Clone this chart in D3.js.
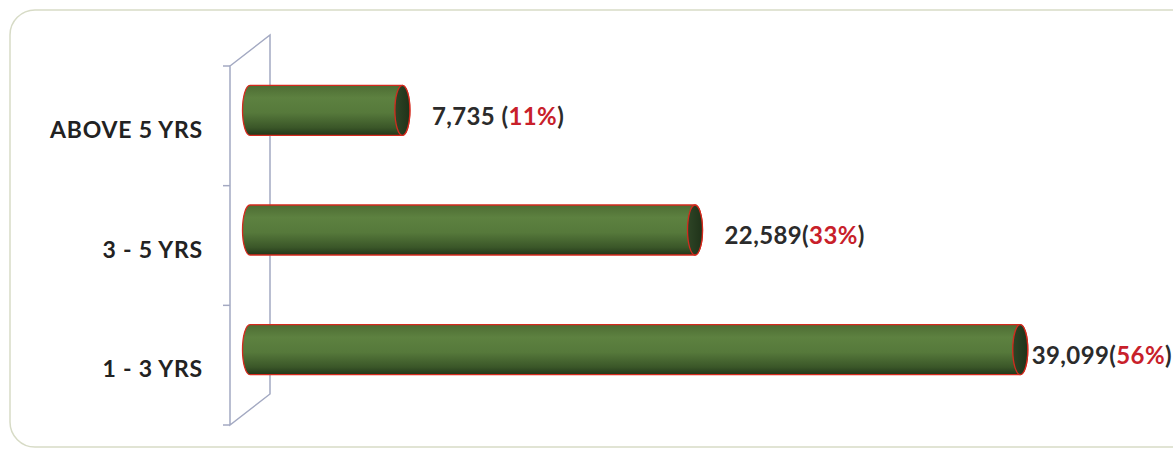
<!DOCTYPE html>
<html>
<head>
<meta charset="utf-8">
<script src="https://cdn.jsdelivr.net/npm/d3@7"></script>
<style>
  body { margin: 0; background: #fff; }
  text { font-family: Lato, "Open Sans", "Liberation Sans", sans-serif; font-weight: bold; letter-spacing: 0.8px; }
  text.val { letter-spacing: 0.4px; }
</style>
</head>
<body>
<div id="chart"></div>
<script>
// chart data
const categories = ["ABOVE 5 YRS", "3 - 5 YRS", "1 - 3 YRS"];
const values = [7735, 22589, 39099];
const percents = ["11%", "33%", "56%"];

const width = 1173, height = 452;

const svg = d3.select("#chart").append("svg")
  .attr("width", width)
  .attr("height", height);

// gradient for the cylinders
const defs = svg.append("defs");
const grad = defs.append("linearGradient")
  .attr("id", "cyl").attr("x1", 0).attr("y1", 0).attr("x2", 0).attr("y2", 1);
grad.append("stop").attr("offset", "0%").attr("stop-color", "#4d6c33");
grad.append("stop").attr("offset", "25%").attr("stop-color", "#5d8140");
grad.append("stop").attr("offset", "55%").attr("stop-color", "#56793b");
grad.append("stop").attr("offset", "85%").attr("stop-color", "#3a5628");
grad.append("stop").attr("offset", "100%").attr("stop-color", "#22361a");

const capGrad = defs.append("linearGradient")
  .attr("id", "cap").attr("x1", 0).attr("y1", 0).attr("x2", 1).attr("y2", 0);
capGrad.append("stop").attr("offset", "0%").attr("stop-color", "#2e4526");
capGrad.append("stop").attr("offset", "100%").attr("stop-color", "#1f3219");

// outer rounded frame
svg.append("rect")
  .attr("x", 10).attr("y", 10)
  .attr("width", 1200).attr("height", 437)
  .attr("rx", 25)
  .attr("fill", "none")
  .attr("stroke", "#d7dbc6")
  .attr("stroke-width", 1.5);

// scales
const frontX = 230;           // front edge of the wall
const depthX = 40, depthY = -31;  // 3d depth of the wall
const y = d3.scaleBand()
  .domain(categories)
  .range([66, 425])
  .paddingInner(0)
  .paddingOuter(0);

const x = d3.scaleLinear()
  .domain([0, 40000])
  .range([frontX + depthX / 2, frontX + depthX / 2 + 788]);

// wall
const wallColor = "#a3a9c2";
const [y0, y1] = y.range();
svg.append("path")
  .attr("d", `M${frontX},${y0} L${frontX + depthX},${y0 + depthY} L${frontX + depthX},${y1 + depthY} L${frontX},${y1} Z`)
  .attr("fill", "none")
  .attr("stroke", wallColor)
  .attr("stroke-width", 1.5);

// tick marks on the axis
const ticks = categories.map(c => y(c)).concat([y1]);
svg.selectAll(".tick")
  .data(ticks)
  .enter().append("line")
  .attr("x1", frontX - 7).attr("x2", frontX)
  .attr("y1", d => d).attr("y2", d => d)
  .attr("stroke", wallColor)
  .attr("stroke-width", 1.5);

// category labels
svg.selectAll(".cat")
  .data(categories)
  .enter().append("text")
  .attr("x", 203)
  .attr("y", d => y(d) + y.bandwidth() / 2 + 4)
  .attr("dy", "0.35em")
  .attr("text-anchor", "end")
  .attr("font-size", 23)
  .attr("fill", "#222")
  .text(d => d);

// cylinders
const barH = 50, rx = 7.5, ry = barH / 2;
const barCenter = c => y(c) + y.bandwidth() / 2 + depthY / 2;

const bars = svg.selectAll(".bar")
  .data(categories)
  .enter().append("g")
  .attr("class", "bar");

bars.append("path")
  .attr("d", (c, i) => {
    const x0 = x(0), x1 = x(values[i]);
    const top = barCenter(c) - ry, bot = barCenter(c) + ry;
    return `M${x1},${top} L${x0},${top} A${rx},${ry} 0 0 0 ${x0},${bot} L${x1},${bot} A${rx},${ry} 0 0 0 ${x1},${top} Z`;
  })
  .attr("fill", "url(#cyl)")
  .attr("stroke", "#d42a1e")
  .attr("stroke-width", 1.3);

bars.append("ellipse")
  .attr("cx", (c, i) => x(values[i]))
  .attr("cy", c => barCenter(c))
  .attr("rx", rx).attr("ry", ry)
  .attr("fill", "url(#cap)")
  .attr("stroke", "#d42a1e")
  .attr("stroke-width", 1.3);

// value labels
const fmt = d3.format(",");
const labels = svg.selectAll(".val")
  .data(categories)
  .enter().append("text")
  .attr("class", "val")
  .attr("y", c => barCenter(c) + 6)
  .attr("dy", "0.35em")
  .attr("font-size", 24)
  .attr("fill", "#2b2b2b");

labels.append("tspan").text((c, i) => fmt(values[i]) + (i === 0 ? " (" : "("));
labels.append("tspan").attr("fill", "#c8202a").text((c, i) => percents[i]);
labels.append("tspan").text(")");

labels.each(function (c, i) {
  const w = this.getComputedTextLength();
  const px = Math.min(x(values[i]) + rx + 22, width - w - 1);
  d3.select(this).attr("x", px);
});
</script>
</body>
</html>
